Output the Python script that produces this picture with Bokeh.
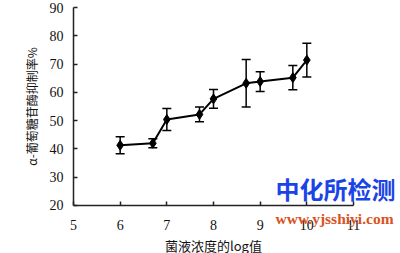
from bokeh.plotting import figure
from bokeh.models import ColumnDataSource, Whisker, TeeHead, Range1d, FixedTicker, Label
from bokeh.embed import file_html
from bokeh.resources import INLINE

log_conc = [6.0, 6.7, 7.0, 7.7, 8.0, 8.7, 9.0, 9.7, 10.0]
inhibition = [41.3, 42.0, 50.4, 52.2, 57.7, 63.2, 63.8, 65.2, 71.4]
err = [3.0, 1.6, 3.9, 2.6, 3.3, 8.4, 3.5, 4.3, 6.0]
x_ticks = [5, 6, 7, 8, 9, 10, 11]
y_ticks = [20, 30, 40, 50, 60, 70, 80, 90]

src = ColumnDataSource(dict(
    x=log_conc, y=inhibition,
    lo=[v - e for v, e in zip(inhibition, err)],
    hi=[v + e for v, e in zip(inhibition, err)],
))

# frame covers the whole canvas; axes are pinned at x=5 and y=20
p = figure(width=400, height=253, output_backend="svg", toolbar_location=None,
           x_range=Range1d(3.436, 12.007), y_range=Range1d(3.03, 92.475),
           min_border_left=0, min_border_right=0, min_border_top=0, min_border_bottom=0)
p.outline_line_color = None
p.xgrid.visible = False
p.ygrid.visible = False
p.background_fill_color = "white"
p.border_fill_color = "white"

w = Whisker(source=src, base="x", lower="lo", upper="hi", line_color="black", line_width=1.5,
            upper_head=TeeHead(size=9, line_color="black", line_width=1.5),
            lower_head=TeeHead(size=9, line_color="black", line_width=1.5))
p.add_layout(w)
p.line("x", "y", source=src, line_color="black", line_width=2)
p.scatter("x", "y", source=src, marker="diamond", size=10, color="black")

for ax in (p.xaxis[0], p.yaxis[0]):
    ax.axis_line_color = "#222222"
    ax.axis_line_width = 1.5
    ax.major_tick_in = 4
    ax.major_tick_out = 0
    ax.major_tick_line_color = "#222222"
    ax.major_tick_line_width = 1.5
    ax.minor_tick_line_color = None
    ax.major_label_text_font = "Liberation Serif"
    ax.major_label_text_font_size = "14px"
    ax.major_label_text_color = "#111111"
    ax.axis_label_text_font = "Noto Sans CJK SC"
    ax.axis_label_text_font_style = "normal"
    ax.axis_label_text_color = "#111111"

p.xaxis.fixed_location = 20
p.yaxis.fixed_location = 5
p.xaxis.bounds = (5, 11)
p.yaxis.bounds = (20, 90)
p.xaxis.ticker = FixedTicker(ticks=x_ticks)
p.yaxis.ticker = FixedTicker(ticks=y_ticks)
p.xaxis.major_label_standoff = 15
p.yaxis.major_label_standoff = 10
p.xaxis.axis_label = "菌液浓度的log值"
p.yaxis.axis_label = "α-葡萄糖苷酶抑制率%"
p.xaxis.axis_label_text_font_size = "13px"
p.yaxis.axis_label_text_font_size = "12px"
p.xaxis.axis_label_standoff = 2
p.yaxis.axis_label_standoff = 7

p.add_layout(Label(x=9.33, y=19.8, text="中化所检测", text_font="Noto Sans CJK SC",
                   text_font_size="24px", text_font_style="bold", text_color="#1a44e6",
                   text_baseline="bottom"))
p.add_layout(Label(x=9.33, y=15.3, text="www.yjsshiyi.com", text_font="Liberation Serif",
                   text_font_size="15.5px", text_font_style="bold", text_color="#d9531e",
                   text_baseline="middle"))

open("out.html", "w").write(file_html(p, INLINE))
